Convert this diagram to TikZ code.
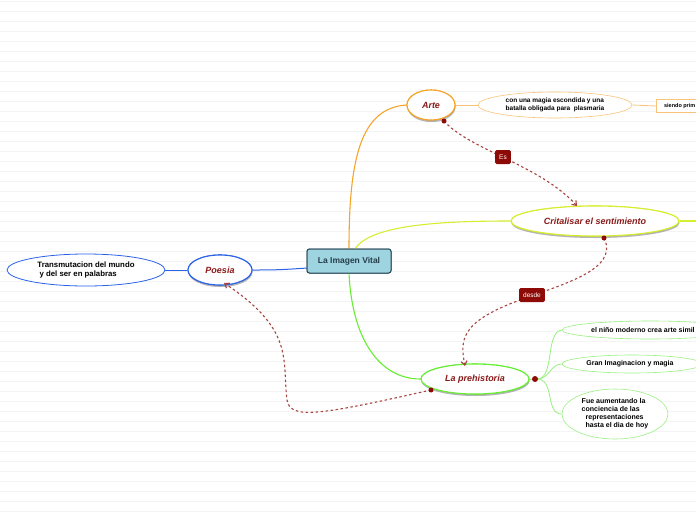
\documentclass[tikz,border=0pt]{standalone}
\usepackage{fontspec}
\setmainfont{Liberation Sans}
\usetikzlibrary{shapes.geometric,arrows.meta,shadows}
\definecolor{bgline}{HTML}{F4F4F4}
\definecolor{titlered}{HTML}{8B1A1A}
\definecolor{relred}{HTML}{A8443F}
\definecolor{lblred}{HTML}{8E0A06}
\definecolor{corefill}{HTML}{9ED3E0}
\definecolor{coreline}{HTML}{2E4D5C}
\definecolor{orangeA}{HTML}{F5A52A}
\definecolor{orangeB}{HTML}{F9C47A}
\definecolor{yellowg}{HTML}{D6EE2E}
\definecolor{greenA}{HTML}{66EE33}
\definecolor{greenB}{HTML}{99F080}
\definecolor{blueA}{HTML}{2A62E8}
\tikzset{
  x=1pt,y=-1pt,
  core/.style={draw=coreline,line width=1pt,fill=corefill,rounded corners=2.5pt,minimum width=84pt,minimum height=24pt,font=\fontsize{8.5}{10}\selectfont\bfseries,text=coreline!80!black},
  topic/.style={ellipse,fill=white,line width=1.1pt,inner sep=0pt,font=\fontsize{9}{10}\selectfont\bfseries\itshape,text=titlered,drop shadow={opacity=0.35,shadow xshift=0.5pt,shadow yshift=-2pt}},
  sub/.style={ellipse,fill=white,line width=0.6pt,inner sep=0pt,font=\fontsize{6.5}{7.5}\selectfont\bfseries,align=left},
  subtxt/.style={font=\fontsize{7}{8}\selectfont\bfseries,align=left,inner sep=0pt},
  rel/.style={draw=relred,line width=1.1pt,dash pattern=on 2.5pt off 2.5pt},
  reldot/.style={circle,fill=lblred,inner sep=0pt,minimum size=5pt},
  rellbl/.style={fill=lblred,text=white,rounded corners=1.5pt,inner xsep=4pt,minimum height=14pt,font=\fontsize{6.5}{7}\selectfont},
}
\begin{document}
\begin{tikzpicture}
\useasboundingbox (0,0) rectangle (696,520);
\clip (0,0) rectangle (696,520);
\fill[white] (0,0) rectangle (696,520);
\foreach \yy in {1,11,...,511} {\draw[bgline,line width=0.6pt] (0,\yy) -- (696,\yy);}

\coordinate (cTop) at (349,249);
\coordinate (cTop2) at (355,249);
\coordinate (cBot) at (349,273);
\coordinate (cLeft) at (307,268);

% nodes
\node[core] (core) at (349,261) {La Imagen Vital};
\node[topic,draw=orangeA,minimum width=48pt,minimum height=30pt] (arte) at (431,105) {Arte};
\node[sub,draw=orangeB,minimum width=154pt,minimum height=26pt] (magia) at (555,105) {con una magia escondida y una\\batalla obligada para\ \ plasmaria};
\node[draw=orangeB,fill=white,line width=0.8pt,minimum height=13pt,minimum width=60pt,anchor=west,inner sep=0pt] (siendo) at (656,106) {};
\node[anchor=east,inner sep=0pt,font=\fontsize{5.5}{6}\selectfont\bfseries] (siendot) at (695.5,106) {siendo prim};
\node[topic,draw=yellowg,minimum width=168pt,minimum height=30pt] (crit) at (595,221) {Critalisar el sentimiento};
\coordinate (critR) at (696,221);
\node[topic,draw=blueA,minimum width=64pt,minimum height=30pt] (poesia) at (220,270) {Poesia};
\node[sub,draw=blueA,line width=0.8pt,minimum width=158pt,minimum height=32pt,font=\fontsize{7.8}{9}\selectfont\bfseries] (trans) at (86,270) {Transmutacion del mundo\\\ y del ser en palabras};
\node[topic,draw=greenA,minimum width=108pt,minimum height=30pt] (pre) at (475,379) {La prehistoria};
\coordinate (fork) at (537,379);

\node[sub,draw=greenB,minimum width=176pt,minimum height=18pt] (nino) at (650,330) {};
\node[subtxt,anchor=west] (ninot) at (591,330) {el niño moderno crea arte simil};
\node[sub,draw=greenB,minimum width=140pt,minimum height=18pt] (gran) at (632,364) {};
\node[subtxt] (grant) at (630,364) {Gran Imaginacion y magia};
\node[sub,draw=greenB,minimum width=106pt,minimum height=50pt,font=\fontsize{7}{8}\selectfont\bfseries] (fue) at (615,414) {Fue aumentando la\\conciencia de las\\\ \ representaciones\\\ \ hasta el dia de hoy};

% tree connectors
\draw[orangeA,line width=1.1pt] (cTop) .. controls (349,160) and (360,108) .. (arte.west);
\draw[yellowg,line width=1.1pt] (cTop2) .. controls (370,225) and (440,221) .. (crit.west);
\draw[yellowg,line width=1.1pt] (crit.east) -- (critR);
\draw[greenA,line width=1.1pt] (cBot) .. controls (352,340) and (380,379) .. (pre.west);
\draw[blueA,line width=1pt] (cLeft) .. controls (280,270) and (270,270) .. (poesia.east);
\draw[blueA,line width=0.8pt] (trans.east) -- (poesia.west);
\draw[orangeB,line width=0.8pt] (arte.east) -- (magia.west);
\draw[orangeB,line width=0.8pt] (magia.east) -- (siendo.west);
\draw[greenB,line width=0.8pt] (pre.east) -- (fork);
\draw[greenB,line width=0.8pt] (fork) .. controls (555,379) and (545,332) .. (nino.west);
\draw[greenB,line width=0.8pt] (fork) .. controls (550,379) and (550,364) .. (gran.west);
\draw[greenB,line width=0.8pt] (fork) .. controls (555,379) and (545,414) .. (fue.west);

% redraw topic nodes on top of connectors
\node[core] at (349,261) {La Imagen Vital};
\node[topic,draw=orangeA,minimum width=48pt,minimum height=30pt] at (431,105) {Arte};
\node[topic,draw=yellowg,minimum width=168pt,minimum height=30pt] at (595,221) {Critalisar el sentimiento};
\node[topic,draw=blueA,minimum width=64pt,minimum height=30pt] at (220,270) {Poesia};
\node[topic,draw=greenA,minimum width=108pt,minimum height=30pt] at (475,379) {La prehistoria};

% relationships
\coordinate (r1s) at (444,121);
\coordinate (r1e) at (577,206);
\draw[rel,-{Straight Barb[length=4pt,width=6pt]}] (r1s) .. controls (470,150) and (540,165) .. (r1e);
\node[reldot] (d1) at (r1s) {};
\node[rellbl] (es) at (503,157) {Es};

\coordinate (r2s) at (604,238);
\coordinate (r2e) at (465,366);
\draw[rel,-{Straight Barb[length=4pt,width=6pt]}] (r2s) .. controls (620,270) and (560,285) .. (520,300) .. controls (460,322) and (460,340) .. (r2e);
\node[reldot] (d2) at (r2s) {};
\node[rellbl] (desde) at (532,295) {desde};

\coordinate (r3s) at (431,390);
\coordinate (r3e) at (224,283);
\draw[rel,-{Straight Barb[length=4pt,width=6pt]}] (r3s) .. controls (320,415) and (290,420) .. (287,400) .. controls (282,360) and (295,330) .. (r3e);
\node[reldot] (d3) at (r3s) {};
\node[circle,fill=lblred,inner sep=0pt,minimum size=6pt] (d4) at (535,379) {};
\end{tikzpicture}
\end{document}
